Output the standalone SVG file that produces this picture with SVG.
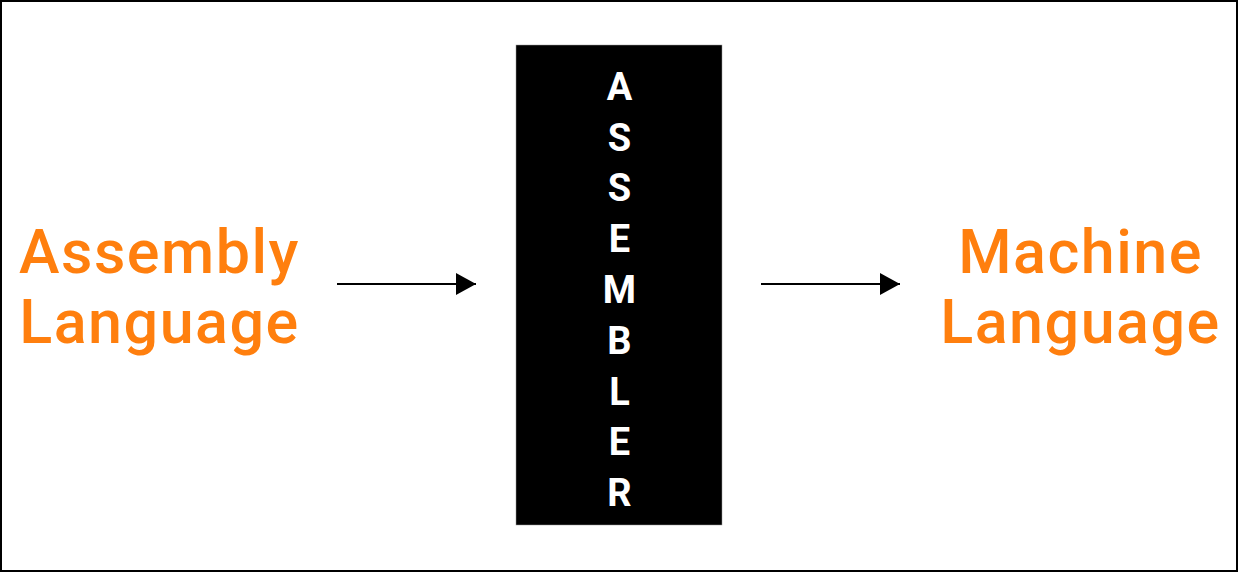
<svg xmlns="http://www.w3.org/2000/svg" width="1238" height="572" viewBox="0 0 1238 572">
  <defs>
    <marker id="arrow" viewBox="0 0 20 22" refX="20" refY="11" markerWidth="20" markerHeight="22" markerUnits="userSpaceOnUse" orient="auto">
      <path d="M0,0 L20,11 L0,22 Z" fill="#000"/>
    </marker>
    <style>
      .label { font-family: Roboto, "Liberation Sans", sans-serif; font-weight: 500; font-size: 61px; fill: #FF7F0E; text-anchor: middle; letter-spacing: 1.5px; }
      .vert { font-family: Roboto, "Liberation Sans", sans-serif; font-weight: 700; font-size: 38px; fill: #fff; text-anchor: middle; }
      .conn { stroke: #000; stroke-width: 2; fill: none; }
    </style>
  </defs>
  <rect x="0" y="0" width="1238" height="572" fill="#fff"/>
  <rect x="1" y="1" width="1236" height="570" fill="none" stroke="#000" stroke-width="2"/>
  <g id="assembly-language">
    <text class="label" x="159.5" y="272.5">Assembly</text>
    <text class="label" x="159.5" y="343">Language</text>
  </g>
  <g id="assembler">
    <rect x="516" y="45" width="206" height="480" fill="#000" stroke="#999" stroke-width="0.5"/>
    <text class="vert" x="619.5" y="99.7">A</text>
    <text class="vert" x="619.5" y="150.5">S</text>
    <text class="vert" x="619.5" y="201.3">S</text>
    <text class="vert" x="619.5" y="252.1">E</text>
    <text class="vert" x="619.5" y="302.9">M</text>
    <text class="vert" x="619.5" y="353.7">B</text>
    <text class="vert" x="619.5" y="404.5">L</text>
    <text class="vert" x="619.5" y="455.3">E</text>
    <text class="vert" x="619.5" y="506">R</text>
  </g>
  <g id="machine-language">
    <text class="label" x="1080.5" y="272.5">Machine</text>
    <text class="label" x="1080.5" y="343">Language</text>
  </g>
  <g id="connectors">
    <line class="conn" x1="337" y1="284" x2="476" y2="284" marker-end="url(#arrow)"/>
    <line class="conn" x1="761" y1="284" x2="900" y2="284" marker-end="url(#arrow)"/>
  </g>
</svg>
